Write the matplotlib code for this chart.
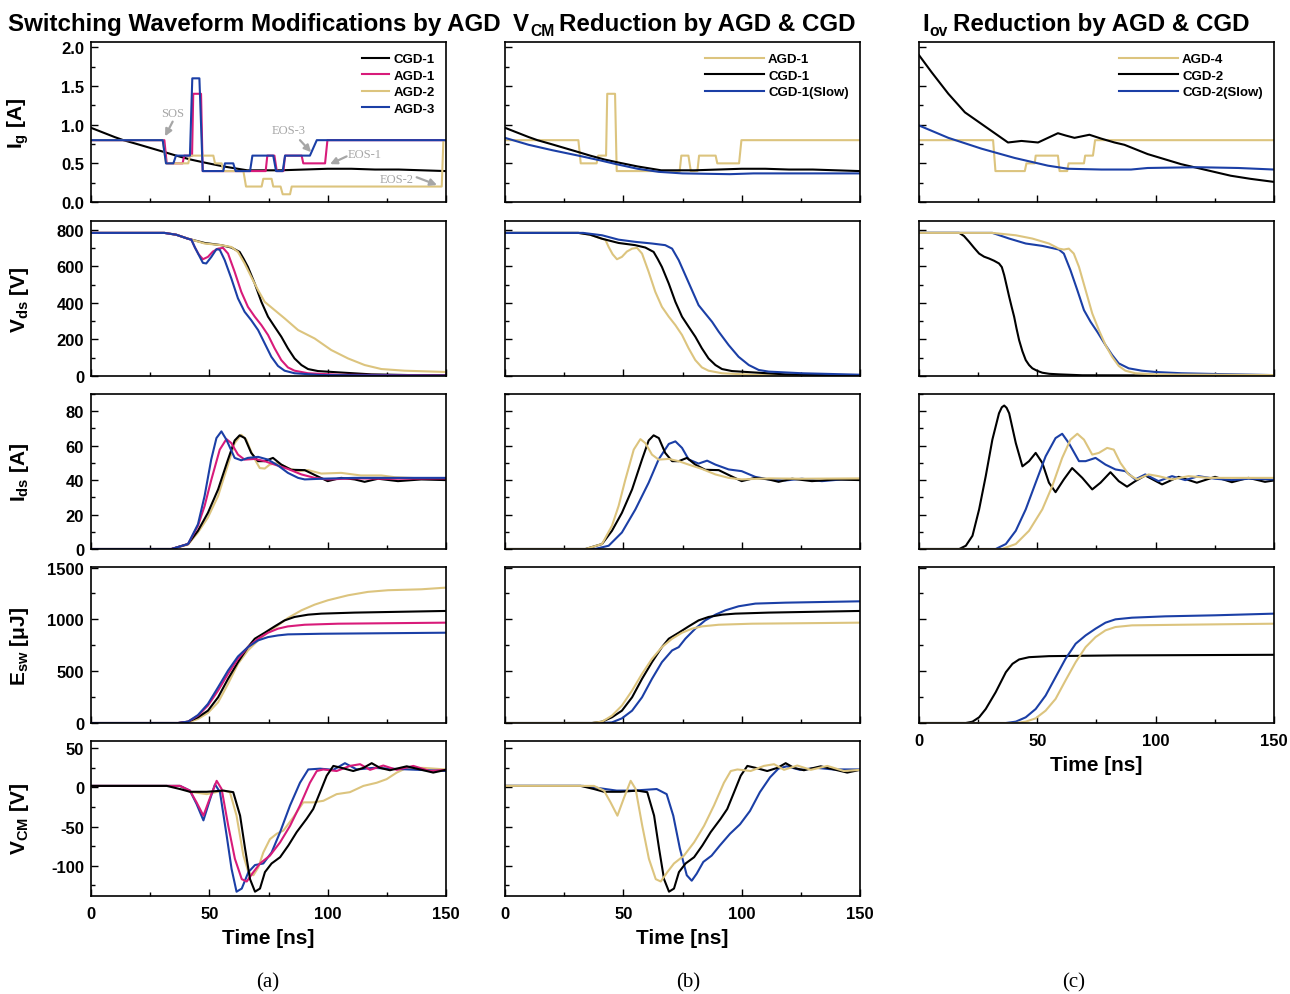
import matplotlib
matplotlib.use("Agg")
import matplotlib.pyplot as plt
from matplotlib.ticker import MultipleLocator, FuncFormatter

plt.rcParams['font.family'] = ['Liberation Sans', 'DejaVu Sans']
plt.rcParams['font.weight'] = 'bold'
plt.rcParams['mathtext.fontset'] = 'custom'
plt.rcParams['mathtext.rm'] = 'Liberation Sans:bold'
plt.rcParams['mathtext.it'] = 'Liberation Sans:bold'
plt.rcParams['mathtext.bf'] = 'Liberation Sans:bold'
plt.rcParams['lines.solid_joinstyle'] = 'round'

C_BLACK = '#000000'
C_MAG = '#d81b7a'
C_GOLD = '#dcc47e'
C_BLUE = '#1b3fa6'

# ---------------- Gate current Ig [A] ----------------
ig_cgd1_t = [0, 5, 10, 13.7, 20, 25, 30, 36, 42, 48, 56, 62, 66, 70, 75, 80, 90, 100, 110, 120, 130, 140, 150]
ig_cgd1_v = [0.96, 0.90, 0.84, 0.80, 0.745, 0.70, 0.655, 0.60, 0.55, 0.51, 0.46, 0.43, 0.41, 0.41, 0.41, 0.41, 0.42, 0.43, 0.43, 0.42, 0.42, 0.41, 0.40]
ig_agd1_t = [0, 31.0, 32.0, 38.7, 39.4, 42.7, 43.2, 46.5, 47.2, 73.8, 74.5, 77.5, 78.5, 81.3, 82.0, 89.0, 89.7, 98.9, 99.9, 150]
ig_agd1_v = [0.8, 0.8, 0.5, 0.5, 0.6, 0.6, 1.4, 1.4, 0.4, 0.4, 0.6, 0.6, 0.4, 0.4, 0.6, 0.6, 0.5, 0.5, 0.8, 0.8]
ig_agd2_t = [0, 30.3, 31.7, 41.1, 41.8, 51.7, 52.4, 55.2, 55.9, 64.4, 65.5, 72.1, 72.8, 76.3, 77.0, 80.1, 81.0, 84.1, 84.8, 148.2, 148.9, 150]
ig_agd2_v = [0.8, 0.8, 0.5, 0.5, 0.6, 0.6, 0.5, 0.5, 0.4, 0.4, 0.2, 0.2, 0.3, 0.3, 0.2, 0.2, 0.1, 0.1, 0.2, 0.2, 0.8, 0.8]
ig_agd3_t = [0, 30.3, 31.7, 34.8, 35.9, 41.8, 42.8, 45.8, 47.2, 55.9, 56.6, 60.1, 61.1, 67.2, 68.2, 77.0, 78.2, 81.0, 82.0, 92.5, 95.4, 150]
ig_agd3_v = [0.8, 0.8, 0.5, 0.5, 0.6, 0.6, 1.6, 1.6, 0.4, 0.4, 0.5, 0.5, 0.4, 0.4, 0.6, 0.6, 0.4, 0.4, 0.6, 0.6, 0.8, 0.8]
ig_cgd1s_t = [0, 10, 20, 31, 40, 47, 56, 65, 75, 85, 95, 105, 120, 135, 150]
ig_cgd1s_v = [0.83, 0.74, 0.67, 0.60, 0.54, 0.49, 0.43, 0.39, 0.37, 0.365, 0.36, 0.37, 0.37, 0.37, 0.37]
ig_cgd2_t = [0, 5.3, 12.4, 19.4, 26.4, 33.4, 37.6, 43.3, 50.3, 54.5, 58.7, 62, 65.7, 72, 77, 82.6, 86.8, 96.6, 110.7, 119.1, 131.7, 140, 150]
ig_cgd2_v = [1.90, 1.68, 1.40, 1.16, 1.01, 0.86, 0.77, 0.79, 0.77, 0.83, 0.89, 0.86, 0.83, 0.87, 0.82, 0.77, 0.74, 0.62, 0.49, 0.43, 0.34, 0.30, 0.26]
ig_cgd2s_t = [0, 12.4, 26.4, 40.4, 54.5, 63, 77, 89.6, 96.6, 117.7, 135, 150]
ig_cgd2s_v = [0.99, 0.83, 0.69, 0.57, 0.47, 0.43, 0.42, 0.42, 0.44, 0.45, 0.44, 0.42]
ig_agd4_t = [0, 31.3, 32.3, 44.7, 45.4, 48.9, 49.3, 58.7, 59.4, 62.6, 63.2, 69.7, 70.2, 73.5, 74.4, 150]
ig_agd4_v = [0.8, 0.8, 0.4, 0.4, 0.5, 0.5, 0.6, 0.6, 0.4, 0.4, 0.5, 0.5, 0.6, 0.6, 0.8, 0.8]

# ---------------- Drain-source voltage Vds [V] ----------------
vds_cgd1_t = [0, 31, 36, 41, 48, 55, 59.3, 62.8, 64.5, 66.3, 69.2, 72, 74.8, 77.6, 80.4, 83.2, 86, 88.9, 91.7, 95.9, 104.4, 118.5, 135, 150]
vds_cgd1_v = [782, 782, 772, 750, 727, 715, 702, 678, 640, 596, 505, 405, 324, 269, 215, 151, 96, 60, 38, 27, 20, 9, 5, 4]
vds_agd1_t = [0, 31, 36, 41, 42.4, 43.8, 45.5, 47.3, 49.4, 51.5, 53.7, 55.8, 57.9, 60.7, 63.5, 66.3, 69.2, 72, 74.8, 77.6, 80.4, 83.2, 86, 91.7, 104.4, 150]
vds_agd1_v = [782, 782, 772, 750, 745, 705, 665, 638, 651, 680, 696, 700, 669, 569, 460, 378, 324, 278, 224, 151, 87, 47, 29, 15, 7, 3]
vds_agd2_t = [0, 31, 36, 41, 48, 55, 59.3, 62.1, 64.9, 67.7, 70.6, 73.4, 77.6, 81.8, 87.5, 94.5, 101.5, 108.6, 115.6, 122.7, 132.5, 150]
vds_agd2_v = [782, 782, 772, 751, 724, 715, 705, 678, 615, 542, 469, 405, 360, 315, 251, 205, 142, 96, 60, 38, 29, 22]
vds_agd3_t = [0, 31, 36, 41, 42.4, 44, 45.8, 47.3, 48.7, 50.8, 53, 54.4, 56.5, 59.3, 62.1, 64.9, 67.7, 70.6, 73.4, 76.2, 79, 81.8, 86, 97.3, 150]
vds_agd3_v = [782, 782, 772, 750, 745, 700, 655, 618, 615, 650, 693, 690, 633, 533, 424, 351, 305, 251, 178, 105, 55, 29, 15, 5, 2]
vds_cgd1s_t = [0, 33, 41, 48, 55.1, 62.1, 67.7, 70.6, 73.4, 76.2, 79, 81.8, 84.6, 87.5, 90.3, 94.5, 98.7, 103, 107.2, 111.4, 125.5, 150]
vds_cgd1s_v = [782, 782, 769, 745, 733, 724, 715, 696, 633, 551, 469, 387, 342, 296, 242, 169, 105, 60, 33, 24, 15, 7]
vds_cgd2_t = [0, 17, 19, 21.2, 23.3, 25.4, 27.5, 29.6, 31.7, 33.8, 35, 36, 37, 38.1, 39.1, 40.2, 41.2, 42.3, 43.7, 45.1, 46.5, 47.9, 50, 52.1, 55, 59.1, 69, 150]
vds_cgd2_v = [782, 782, 765, 733, 700, 669, 652, 642, 630, 615, 595, 551, 495, 433, 380, 324, 260, 196, 135, 87, 60, 42, 28, 18, 12, 9, 4, 2]
vds_cgd2s_t = [0, 31, 38.1, 45.1, 52.1, 59.1, 61.2, 64, 66.9, 69.7, 72.5, 75.3, 78.8, 81.6, 84.4, 88.6, 94.2, 99.9, 111, 125, 150]
vds_cgd2s_v = [782, 782, 751, 724, 711, 691, 669, 578, 469, 360, 296, 242, 169, 115, 69, 42, 29, 22, 15, 11, 5]
vds_agd4_t = [0, 31, 40.9, 47.9, 54.9, 59.1, 61.2, 63.3, 65.4, 67.6, 70.4, 73.2, 76, 78.8, 81.6, 84.4, 87.2, 91.4, 99.8, 150]
vds_agd4_v = [782, 782, 769, 751, 724, 696, 691, 696, 669, 596, 469, 342, 251, 169, 105, 55, 29, 15, 9, 5]

# ---------------- Drain current Ids [A] ----------------
ids_cgd1_t = [0, 34, 41, 45.2, 49.4, 53.7, 57.9, 60.7, 62.8, 65, 67.7, 70.6, 73.4, 76.9, 80.4, 84.6, 90.3, 94.5, 100, 105.7, 111.4, 115.6, 121.3, 129.7, 139.6, 150]
ids_cgd1_v = [0, 0, 2.9, 10.6, 21, 34.6, 52, 63, 66, 64.4, 55.8, 51, 51, 52.9, 49, 46, 45.8, 43, 39.4, 41.3, 40.4, 39, 40.8, 39.4, 40.4, 40]
ids_agd1_t = [0, 34, 41, 45.2, 48, 50.8, 54.4, 57.2, 59.3, 62.1, 64.9, 69.2, 73.4, 77.6, 83.2, 88.9, 94.5, 100, 111.4, 125.5, 150]
ids_agd1_v = [0, 0, 2.9, 13.5, 25, 40, 57.7, 63.8, 61.5, 54.8, 51.9, 52.3, 51, 49, 46.5, 43.3, 41.3, 40.4, 41, 40.8, 41]
ids_agd2_t = [0, 34, 41, 45.2, 49.4, 53.7, 57.9, 60.7, 63.5, 65.6, 68.5, 71.3, 73.4, 75.5, 79, 83.2, 87.5, 91.7, 97.3, 105.7, 114, 122.7, 128.3, 139.6, 150]
ids_agd2_v = [0, 0, 2.5, 9.6, 18.3, 30.8, 49, 61.5, 66.3, 63.5, 53.8, 47, 46.7, 49, 50, 47, 45.2, 45.8, 43.8, 44.2, 42.7, 42.7, 41.7, 41, 40.8]
ids_agd3_t = [0, 34, 41, 45.2, 48, 50.8, 53, 55.1, 57.2, 60.7, 63.5, 66.3, 70.6, 74.8, 79, 83.2, 87.5, 90.3, 97.3, 111.4, 150]
ids_agd3_v = [0, 0, 2.9, 14.4, 30.8, 52, 64.4, 68.3, 63.5, 52.9, 51.5, 52.9, 53.5, 51.9, 48.5, 44.2, 41.3, 40.4, 40.8, 41.3, 41.3]
ids_cgd1s_t = [0, 38, 43.8, 49.4, 55.1, 60.7, 64.9, 69.2, 72, 74.8, 77.6, 81.8, 85.4, 88.9, 94.5, 100, 105.7, 111.4, 118.5, 125.5, 133.9, 142.4, 150]
ids_cgd1s_v = [0, 0, 1.9, 9.6, 23, 38.5, 52, 61, 62.5, 58.7, 52, 49.6, 51.3, 49, 46.2, 45.2, 41.9, 40.4, 39.8, 40.8, 39.4, 40.4, 40.4]
ids_cgd2_t = [0, 17, 19.8, 22.6, 25.4, 28.2, 31, 33.8, 35, 36, 37, 38.1, 40.9, 43.7, 46.5, 49.3, 52.1, 54.9, 57.7, 61.2, 64.7, 69, 73.2, 76.7, 80.9, 84.4, 87.9, 91.4, 95.6, 102.7, 109.7, 117.4, 125.1, 132.2, 139.2, 146.2, 150]
ids_cgd2_v = [0, 0, 1.9, 7.7, 23, 42.3, 63.5, 78.8, 82.3, 83.3, 82, 78.8, 61.5, 48, 51, 55.8, 50, 38.5, 33, 40.4, 47, 41.3, 34.6, 38.5, 44.6, 39.4, 36.2, 39.4, 42.7, 37.5, 41.9, 38.5, 41.9, 38.8, 41.3, 39, 39.8]
ids_cgd2s_t = [0, 32.4, 36.7, 40.9, 45.1, 49.3, 53.5, 57.7, 60.5, 63.3, 67.6, 70.4, 74.6, 78.8, 83, 87.2, 91.4, 95.6, 101.2, 106.9, 112.5, 118.1, 125.1, 132.2, 139.2, 150]
ids_cgd2s_v = [0, 0, 2.9, 10.6, 23, 38.5, 53.8, 64.4, 66.9, 61.5, 51, 51, 52.9, 49, 46.2, 45.2, 40.4, 43.3, 39.4, 42.3, 40, 42.3, 40.8, 40, 40.8, 40.4]
ids_agd4_t = [0, 35, 40.9, 46.5, 52.1, 56.3, 60.5, 64, 66.9, 69.7, 73.2, 76, 79.5, 82.3, 85.1, 88.6, 92.1, 97, 101.2, 106.9, 113.9, 122.3, 132.2, 150]
ids_agd4_v = [0, 0, 2.9, 10.6, 23, 36.5, 52.9, 63.5, 66.9, 63.5, 54.8, 55.8, 58.7, 57.7, 50, 43.3, 40.4, 43.3, 42.3, 40.4, 42.3, 41.3, 41.3, 41.3]

# ---------------- Switching energy Esw [uJ] ----------------
esw_cgd1_t = [0, 36.8, 41, 45.2, 49.4, 53.7, 57.9, 62.1, 66.3, 69.2, 73.4, 77.6, 81.8, 86, 91.7, 97.3, 111.4, 150]
esw_cgd1_v = [0, 0, 13, 55, 119, 248, 426, 587, 732, 813, 871, 932, 990, 1023, 1045, 1055, 1065, 1081]
esw_agd1_t = [0, 36.8, 41, 45.2, 49.4, 53.7, 57.9, 62.1, 66.3, 70.6, 74.8, 79, 83.2, 90.3, 104.4, 150]
esw_agd1_v = [0, 0, 13, 71, 168, 313, 474, 619, 732, 813, 871, 910, 932, 948, 958, 968]
esw_agd2_t = [0, 36.8, 41, 45.2, 49.4, 53.7, 57.9, 62.1, 66.3, 70.6, 74.8, 79, 83.2, 88.9, 94.5, 100.1, 108.6, 117, 125.5, 139.6, 150]
esw_agd2_v = [0, 0, 6, 39, 97, 200, 377, 571, 700, 797, 877, 942, 1013, 1087, 1142, 1184, 1232, 1265, 1281, 1290, 1306]
esw_agd3_t = [0, 36.8, 41, 45.2, 49.4, 53.7, 57.9, 62.1, 66.3, 70.6, 74.8, 79, 83.2, 97.3, 150]
esw_agd3_v = [0, 0, 13, 77, 184, 345, 506, 642, 732, 797, 829, 845, 855, 861, 871]
esw_cgd1s_t = [0, 40, 45.2, 49.4, 53.7, 57.9, 62.1, 66.3, 70.6, 73.4, 76.2, 80.4, 84.6, 88.9, 93.1, 98.7, 105.8, 118.5, 150]
esw_cgd1s_v = [0, 0, 6, 45, 119, 248, 426, 587, 700, 732, 813, 910, 990, 1045, 1087, 1126, 1152, 1161, 1174]
esw_cgd2_t = [0, 19.8, 22.6, 25.4, 28.2, 32.4, 36.7, 39.5, 42.3, 46.5, 54.9, 83, 150]
esw_cgd2_v = [0, 0, 13, 55, 135, 297, 490, 571, 613, 635, 645, 652, 658]
esw_cgd2s_t = [0, 36.7, 40.9, 45.1, 49.3, 53.5, 57.7, 61.9, 66.2, 70.4, 74.6, 78.8, 83, 90, 104.1, 125.1, 150]
esw_cgd2s_v = [0, 0, 13, 55, 135, 265, 442, 619, 765, 845, 910, 968, 1000, 1016, 1029, 1039, 1055]
esw_agd4_t = [0, 40.9, 45.1, 49.3, 53.5, 57.7, 61.9, 66.2, 70.4, 74.6, 78.8, 83, 90, 111, 150]
esw_agd4_v = [0, 0, 13, 45, 119, 232, 410, 587, 732, 829, 894, 926, 942, 948, 958]

# ---------------- Common-mode voltage VCM [V] ----------------
vcm_cgd1_t = [0, 32, 37.6, 41.8, 48.9, 55.9, 60.1, 63, 65.1, 67.2, 69.3, 71.4, 73.5, 76.3, 79.9, 83.4, 86.9, 91.1, 93.9, 96.8, 99.6, 102.4, 105.9, 110.8, 115.1, 118.6, 122.1, 126.3, 133.4, 140.4, 144.6, 150]
vcm_cgd1_v = [2, 2, -2, -5.5, -5.5, -4, -6, -36, -78, -117, -133, -129, -108, -97, -89, -74, -57, -40, -27.5, -6, 15, 27.5, 25, 21, 25, 31, 25, 22, 27, 22, 19, 22.5]
vcm_agd1_t = [0, 37.6, 41.8, 44.6, 47.5, 50.3, 53.1, 55.2, 58, 60.8, 63.7, 65.8, 68.6, 71.4, 75.6, 79.9, 84.1, 88.3, 92.5, 95.4, 98.2, 103.8, 109.4, 113.7, 117.9, 123.5, 129.2, 136.2, 143.2, 150]
vcm_agd1_v = [2, 2, -4, -19, -36, -13, 8.5, -2, -49, -91, -117, -120, -108, -97, -87, -70, -49, -23, 6, 21, 23, 21, 27.5, 29.7, 22.5, 28, 22.5, 27.5, 21, 22.5]
vcm_agd2_t = [0, 37.6, 41.8, 48.9, 55.9, 58.7, 61.5, 64.4, 66.5, 68.6, 70.7, 72.8, 75.6, 78.5, 81.3, 85.5, 89.7, 94, 98.2, 103.8, 109.4, 115.1, 120.7, 124.9, 129.2, 133.4, 140.4, 150]
vcm_agd2_v = [2, 2, -5.5, -8.5, -4, -6, -36, -87, -108, -112, -102, -83, -66, -59, -55, -38, -19, -19, -17, -8.5, -6, 2, 6, 10.6, 19, 25, 25, 23]
vcm_agd3_t = [0, 37.6, 41.8, 44.6, 47.5, 50.3, 52.4, 54.5, 57.3, 59.4, 61.5, 63.7, 66.5, 69.3, 72.8, 76.3, 79.9, 84.1, 88.3, 91.8, 96.8, 102.4, 107.3, 112.3, 119.3, 126.3, 150]
vcm_agd3_v = [2, 2, -4, -21, -42, -15, 4, -6, -61, -104, -133, -129, -108, -99, -97, -83, -57, -23, 6, 23, 24, 22.5, 31, 23, 25, 24, 21]
vcm_cgd1s_t = [0, 33, 40.1, 47.2, 54.2, 64.1, 68.3, 71.1, 73.9, 76.8, 78.9, 81, 83.8, 87.3, 90.8, 95.1, 99.3, 103.5, 107.7, 112, 115.5, 119, 124.6, 131.7, 138.7, 150]
vcm_cgd1s_v = [2, 2, -1, -4, -4, -2, -8.5, -36, -78, -112, -119, -110, -95, -87, -74, -59, -47, -30, -6, 13, 24, 27, 22.5, 25, 23, 23]

time_ticks = [0, 50, 100, 150]

LW = 1.5
pos_x = [91, 505, 919]
ax_w = 355
rows_y = [(43, 203), (222, 377), (395, 550), (568, 724), (742, 897)]
FW, FH = 1290, 995

fig = plt.figure(figsize=(12.9, 9.95), dpi=100)


def make_ax(col, row):
    x0 = pos_x[col]
    y0, y1 = rows_y[row]
    return fig.add_axes([x0 / FW, 1 - y1 / FH, ax_w / FW, (y1 - y0) / FH])


ylims = [(0, 2.07), (0, 847), (0, 90), (0, 1505), (-138.5, 59.3)]
ymaj = [0.5, 200, 20, 500, 50]
ymin_ = [0.25, 100, 10, 250, 25]
ylabels = [r'$\mathrm{I_g}$ [A]', r'$\mathrm{V_{ds}}$ [V]', r'$\mathrm{I_{ds}}$ [A]',
           r'$\mathrm{E_{sw}}$ [$\mathrm{\mu}$J]', r'$\mathrm{V_{CM}}$ [V]']
yfmt = ['{:.1f}', '{:.0f}', '{:.0f}', '{:.0f}', '{:.0f}']


def style(ax, row, show_x, col):
    ax.set_xlim(0, 150)
    ax.set_ylim(*ylims[row])
    ax.xaxis.set_major_locator(MultipleLocator(50))
    ax.xaxis.set_minor_locator(MultipleLocator(25))
    ax.yaxis.set_major_locator(MultipleLocator(ymaj[row]))
    ax.yaxis.set_minor_locator(MultipleLocator(ymin_[row]))
    ax.tick_params(which='both', direction='in', top=False, right=False, labelsize=12, width=1.0)
    ax.tick_params(which='major', length=5)
    ax.tick_params(which='minor', length=3)
    ax.tick_params(axis='x', pad=7)
    ax.tick_params(axis='y', pad=5)
    for s in ax.spines.values():
        s.set_linewidth(1.2)
    if show_x:
        ax.set_xticks(time_ticks)
        ax.set_xticklabels([str(t) for t in time_ticks])
        ax.set_xlabel('Time [ns]', fontsize=15, fontweight='bold', labelpad=5)
    else:
        ax.set_xticklabels([])
    if col == 0:
        ax.set_ylabel(ylabels[row], fontsize=15, fontweight='bold')
        ax.yaxis.set_label_coords(-0.17, 0.5)
        ax.yaxis.set_major_formatter(FuncFormatter(lambda v, p, f=yfmt[row]: f.format(v)))
    else:
        ax.set_yticklabels([])


leg_kw = dict(loc='upper right', frameon=False, handletextpad=0.3, labelspacing=0.32,
              borderaxespad=0.45, prop={'weight': 'bold', 'size': 9.5})

# ---- column (a)
A = [make_ax(0, r) for r in range(5)]
ax = A[0]
ax.plot(ig_cgd1_t, ig_cgd1_v, color=C_BLACK, lw=LW, label='CGD-1')
ax.plot(ig_agd1_t, ig_agd1_v, color=C_MAG, lw=LW, label='AGD-1')
ax.plot(ig_agd2_t, ig_agd2_v, color=C_GOLD, lw=LW, label='AGD-2')
ax.plot(ig_agd3_t, ig_agd3_v, color=C_BLUE, lw=LW, label='AGD-3')
ax.legend(handlelength=2.1, **leg_kw)
ann_kw = dict(color='#a6a6a6', fontsize=9, family='Liberation Serif', fontweight='normal', ha='center', va='center')
arr_kw = dict(arrowstyle='-|>', color='#a6a6a6', lw=1.6, mutation_scale=10, shrinkA=0, shrinkB=0)
ax.text(34.5, 1.15, 'SOS', **ann_kw)
ax.annotate('', xy=(31.3, 0.85), xytext=(34.5, 1.04), arrowprops=arr_kw)
ax.text(83.4, 0.93, 'EOS-3', **ann_kw)
ax.annotate('', xy=(93.0, 0.645), xytext=(88.3, 0.80), arrowprops=arr_kw)
ax.text(115.5, 0.62, 'EOS-1', **ann_kw)
ax.annotate('', xy=(101.0, 0.49), xytext=(108.0, 0.59), arrowprops=arr_kw)
ax.text(129.2, 0.30, 'EOS-2', **ann_kw)
ax.annotate('', xy=(146.2, 0.22), xytext=(137.6, 0.32), arrowprops=arr_kw)

ax = A[1]
ax.plot(vds_cgd1_t, vds_cgd1_v, color=C_BLACK, lw=LW)
ax.plot(vds_agd2_t, vds_agd2_v, color=C_GOLD, lw=LW)
ax.plot(vds_agd1_t, vds_agd1_v, color=C_MAG, lw=LW)
ax.plot(vds_agd3_t, vds_agd3_v, color=C_BLUE, lw=LW)
ax = A[2]
ax.plot(ids_agd2_t, ids_agd2_v, color=C_GOLD, lw=LW)
ax.plot(ids_cgd1_t, ids_cgd1_v, color=C_BLACK, lw=LW)
ax.plot(ids_agd1_t, ids_agd1_v, color=C_MAG, lw=LW)
ax.plot(ids_agd3_t, ids_agd3_v, color=C_BLUE, lw=LW)
ax = A[3]
ax.plot(esw_agd2_t, esw_agd2_v, color=C_GOLD, lw=LW)
ax.plot(esw_cgd1_t, esw_cgd1_v, color=C_BLACK, lw=LW)
ax.plot(esw_agd1_t, esw_agd1_v, color=C_MAG, lw=LW)
ax.plot(esw_agd3_t, esw_agd3_v, color=C_BLUE, lw=LW)
ax = A[4]
ax.plot(vcm_agd2_t, vcm_agd2_v, color=C_GOLD, lw=LW)
ax.plot(vcm_agd3_t, vcm_agd3_v, color=C_BLUE, lw=LW)
ax.plot(vcm_agd1_t, vcm_agd1_v, color=C_MAG, lw=LW)
ax.plot(vcm_cgd1_t, vcm_cgd1_v, color=C_BLACK, lw=LW)
for r in range(5):
    style(A[r], r, r == 4, 0)

# ---- column (b)
B = [make_ax(1, r) for r in range(5)]
ax = B[0]
ax.plot(ig_agd1_t, ig_agd1_v, color=C_GOLD, lw=LW, label='AGD-1')
ax.plot(ig_cgd1_t, ig_cgd1_v, color=C_BLACK, lw=LW, label='CGD-1')
ax.plot(ig_cgd1s_t, ig_cgd1s_v, color=C_BLUE, lw=LW, label='CGD-1(Slow)')
ax.legend(handlelength=4.5, **leg_kw)
ax = B[1]
ax.plot(vds_agd1_t, vds_agd1_v, color=C_GOLD, lw=LW)
ax.plot(vds_cgd1_t, vds_cgd1_v, color=C_BLACK, lw=LW)
ax.plot(vds_cgd1s_t, vds_cgd1s_v, color=C_BLUE, lw=LW)
ax = B[2]
ax.plot(ids_cgd1s_t, ids_cgd1s_v, color=C_BLUE, lw=LW)
ax.plot(ids_cgd1_t, ids_cgd1_v, color=C_BLACK, lw=LW)
ax.plot(ids_agd1_t, ids_agd1_v, color=C_GOLD, lw=LW)
ax = B[3]
ax.plot(esw_cgd1s_t, esw_cgd1s_v, color=C_BLUE, lw=LW)
ax.plot(esw_cgd1_t, esw_cgd1_v, color=C_BLACK, lw=LW)
ax.plot(esw_agd1_t, esw_agd1_v, color=C_GOLD, lw=LW)
ax = B[4]
ax.plot(vcm_cgd1s_t, vcm_cgd1s_v, color=C_BLUE, lw=LW)
ax.plot(vcm_cgd1_t, vcm_cgd1_v, color=C_BLACK, lw=LW)
ax.plot(vcm_agd1_t, vcm_agd1_v, color=C_GOLD, lw=LW)
for r in range(5):
    style(B[r], r, r == 4, 1)

# ---- column (c)
Cc = [make_ax(2, r) for r in range(4)]
ax = Cc[0]
ax.plot(ig_agd4_t, ig_agd4_v, color=C_GOLD, lw=LW, label='AGD-4')
ax.plot(ig_cgd2_t, ig_cgd2_v, color=C_BLACK, lw=LW, label='CGD-2')
ax.plot(ig_cgd2s_t, ig_cgd2s_v, color=C_BLUE, lw=LW, label='CGD-2(Slow)')
ax.legend(handlelength=4.5, **leg_kw)
ax = Cc[1]
ax.plot(vds_cgd2_t, vds_cgd2_v, color=C_BLACK, lw=LW)
ax.plot(vds_cgd2s_t, vds_cgd2s_v, color=C_BLUE, lw=LW)
ax.plot(vds_agd4_t, vds_agd4_v, color=C_GOLD, lw=LW)
ax = Cc[2]
ax.plot(ids_cgd2_t, ids_cgd2_v, color=C_BLACK, lw=LW)
ax.plot(ids_cgd2s_t, ids_cgd2s_v, color=C_BLUE, lw=LW)
ax.plot(ids_agd4_t, ids_agd4_v, color=C_GOLD, lw=LW)
ax = Cc[3]
ax.plot(esw_cgd2_t, esw_cgd2_v, color=C_BLACK, lw=LW)
ax.plot(esw_cgd2s_t, esw_cgd2s_v, color=C_BLUE, lw=LW)
ax.plot(esw_agd4_t, esw_agd4_v, color=C_GOLD, lw=LW)
for r in range(4):
    style(Cc[r], r, r == 3, 2)

# ---- titles (fit the first title to its width in the reference)
renderer = fig.canvas.get_renderer()
BASE_Y = 1 - 31 / FH
title_a = fig.text(8 / FW, BASE_Y, 'Switching Waveform Modifications by AGD', ha='left', va='baseline',
                   fontsize=20, fontweight='bold')
w = title_a.get_window_extent(renderer).width
TFS = 20 * 492 / w
title_a.set_fontsize(TFS)


def sub_title(x_px, main, sub, rest):
    t1 = fig.text(x_px / FW, BASE_Y, main, ha='left', va='baseline', fontsize=TFS, fontweight='bold')
    b1 = t1.get_window_extent(renderer)
    t2 = fig.text((b1.x1 + 1) / FW, BASE_Y - 5 / FH, sub, ha='left', va='baseline',
                  fontsize=TFS * 0.65, fontweight='bold')
    b2 = t2.get_window_extent(renderer)
    fig.text((b2.x1 + 5) / FW, BASE_Y, rest, ha='left', va='baseline', fontsize=TFS, fontweight='bold')


sub_title(513, 'V', 'CM', 'Reduction by AGD & CGD')
sub_title(922, 'I', 'ov', 'Reduction by AGD & CGD')

for lab, xp in [('(a)', 268), ('(b)', 688), ('(c)', 1074)]:
    fig.text(xp / FW, 1 - 983 / FH, lab, ha='center', va='center', fontsize=15, family='Liberation Serif',
             fontweight='normal')

fig.savefig('out.png', dpi=100, facecolor='white')
